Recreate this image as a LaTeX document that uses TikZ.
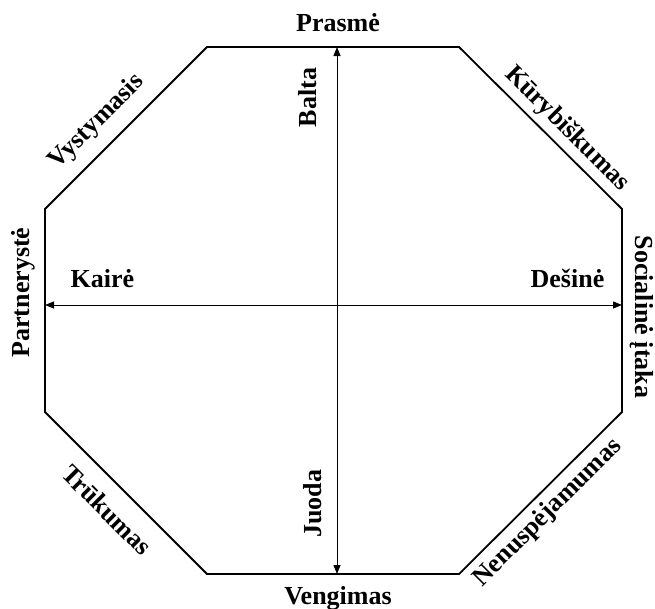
\documentclass[tikz,border=0pt]{standalone}
\usepackage{fontspec}
\setmainfont{Liberation Serif}
\usepackage{tikz}
\usetikzlibrary{arrows.meta}
\tikzset{
	>={Triangle[length=9pt, width=7pt]},
	% aštuonkampio kraštinės
	krastine/.style={line width=1.8pt, line join=miter},
	% ašis su rodyklėmis abiejuose galuose
	asis/.style={<->, line width=0.9pt},
	% užrašas
	zyme/.style={font=\fontsize{26}{30}\selectfont\bfseries, inner sep=0pt},
}

\begin{document}
\begin{tikzpicture}[x=1pt, y=-1pt]
    \useasboundingbox (0,0) rectangle (655,608);

    % aštuonkampis
    \coordinate (v1) at (207,47);
    \coordinate (v2) at (459,47);
    \coordinate (v3) at (622,209);
    \coordinate (v4) at (622,412);
    \coordinate (v5) at (459,574);
    \coordinate (v6) at (207,574);
    \coordinate (v7) at (45,412);
    \coordinate (v8) at (45,209);
    \draw[krastine] (v1) -- (v2) -- (v3) -- (v4) -- (v5) -- (v6) -- (v7) -- (v8) -- cycle;

    % ašys
    \coordinate (virsus) at (337,47);
    \coordinate (apacia) at (337,574);
    \coordinate (kairys) at (45,305);
    \coordinate (desinys) at (622,305);
    \draw[asis] (virsus) -- (apacia);
    \draw[asis] (kairys) -- (desinys);

    % ašių galai
    \node[zyme] (balta) at (307.5,97.5) [rotate=90] {Balta};
    \node[zyme] (juoda) at (312.5,503.5) [rotate=90] {Juoda};
    \node[zyme] (kaire) at (102.5,278.5) {Kairė};
    \node[zyme] (desine) at (567.5,278.5) {Dešinė};

    % kraštinės
    \node[zyme] (prasme) at (338,23) {Prasmė};
    \node[zyme] (vengimas) at (338,598) {Vengimas};
    \node[zyme, rotate=90] (partneryste) at (23,292.5) {Partnerystė};
    \node[zyme, rotate=-90] (itaka) at (642,317) {Socialinė įtaka};
    \node[zyme, rotate=45] (vystymasis) at (97,122) {Vystymasis};
    \node[zyme, rotate=-45] (kurybiskumas) at (567,129) {Kūrybiškumas};
    \node[zyme, rotate=-45] (trukumas) at (107,510) {Trūkumas};
    \node[zyme, rotate=45] (nenuspejamumas) at (548,513) {Nenuspėjamumas};
\end{tikzpicture}
\end{document}
